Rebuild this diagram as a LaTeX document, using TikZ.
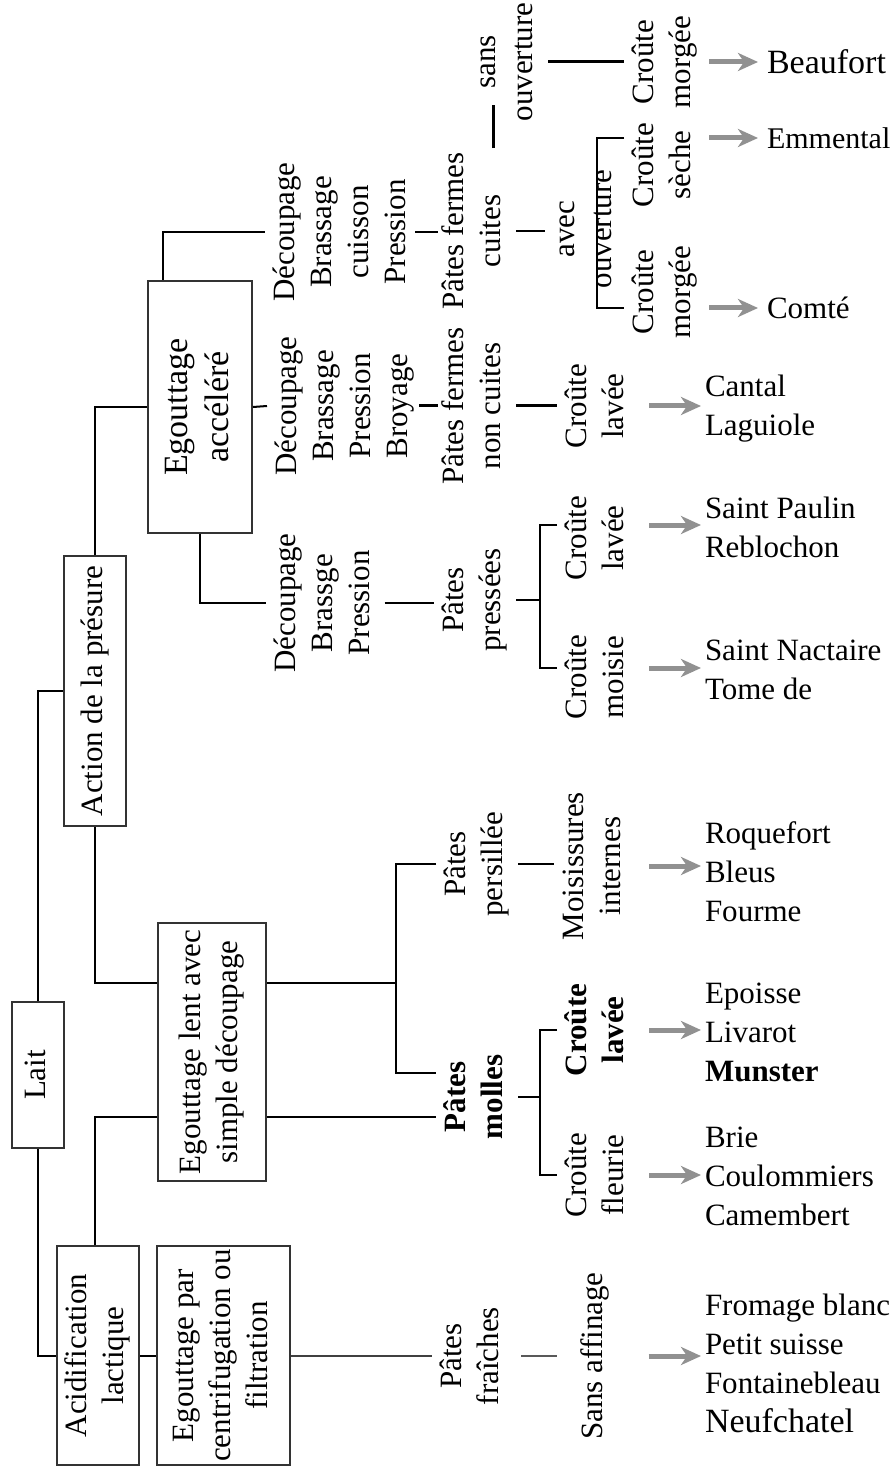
\documentclass[tikz,border=0pt]{standalone}
\usepackage{fontspec}
\setmainfont{Liberation Serif}
\usetikzlibrary{arrows.meta}
\definecolor{arrowgray}{RGB}{145,145,145}
\newcommand{\vt}[1]{\rotatebox{90}{\begin{tabular}{@{}c@{}}#1\end{tabular}}}

\begin{document}
\begin{tikzpicture}[
       x=0.5pt, y=-0.5pt,
       line width=1pt,
       font=\fontsize{15.5}{18.5}\selectfont,
       box/.style={
         draw=black!80,
         line width=1pt,
         inner sep=0pt
       },
       etape/.style={inner sep=1.5pt},
       fromage/.style={
         anchor=west,
         align=left,
         inner sep=1.5pt,
         font=\fontsize{15.5}{19.5}\selectfont
       },
       fleche/.style={
         draw=arrowgray,
         line width=2.5pt,
         -{Stealth[length=10pt,width=9pt,inset=3pt]}
       },
       fin/.style={line width=0.6pt},
       epais/.style={line width=1.5pt}
     ]

       \useasboundingbox (0,0) rectangle (894,1470);

       % boites
       \node[box, minimum width=26pt, minimum height=73pt] (lait) at (38,1075) {\vt{Lait}};
       \node[box, minimum width=31pt, minimum height=135pt] (action) at (95,691) {\vt{Action de la présure}};
       \node[box, minimum width=41pt, minimum height=109.5pt] (acid) at (98,1355.5) {\vt{Acidification\\lactique}};
       \node[box, minimum width=66.5pt, minimum height=109.5pt] (egpar) at (223.5,1355.5) {\vt{Egouttage par\\centrifugation ou\\filtration}};
       \node[box, minimum width=54pt, minimum height=129pt] (eglent) at (212,1052) {\vt{Egouttage lent avec\\simple découpage}};
       \node[box, minimum width=52pt, minimum height=126pt, font=\fontsize{17}{20.5}\selectfont] (egacc) at (200,407) {\vt{Egouttage\\accéléré}};

       % etapes
       \node[etape] (dec1) at (343,232) {\vt{Découpage\\Brassage\\cuisson\\Pression}};
       \node[etape] (dec2) at (345,406) {\vt{Découpage\\Brassage\\Pression\\Broyage}};
       \node[etape] (dec3) at (325,603) {\vt{Découpage\\Brassge\\Pression}};
       \node[etape] (pfc) at (475,231) {\vt{Pâtes fermes\\cuites}};
       \node[etape] (pfnc) at (475,406) {\vt{Pâtes fermes\\non cuites}};
       \node[etape] (ppr) at (475,600) {\vt{Pâtes\\pressées}};
       \node[etape] (ppe) at (477,864) {\vt{Pâtes\\persillée}};
       \node[etape] (pmo) at (477,1097) {\vt{\textbf{Pâtes}\\\textbf{molles}}};
       \node[etape] (pfr) at (473,1356) {\vt{Pâtes\\fraîches}};

       \node[etape] (sansouv) at (507,62) {\vt{sans\\ouverture}};
       \node[etape] (avecouv) at (586,229) {\vt{avec\\ouverture}};
       \node[etape] (cm1) at (665,62) {\vt{Croûte\\morgée}};
       \node[etape] (cse) at (665,165) {\vt{Croûte\\sèche}};
       \node[etape] (cm2) at (665,292) {\vt{Croûte\\morgée}};
       \node[etape] (cl1) at (598,406) {\vt{Croûte\\lavée}};
       \node[etape] (cl2) at (598,538) {\vt{Croûte\\lavée}};
       \node[etape] (cmo) at (598,677) {\vt{Croûte\\moisie}};
       \node[etape] (moi) at (595,866) {\vt{Moisissures\\internes}};
       \node[etape] (cl3) at (598,1030) {\vt{\textbf{Croûte}\\\textbf{lavée}}};
       \node[etape] (cfl) at (598,1175) {\vt{Croûte\\fleurie}};
       \node[etape] (saff) at (595,1356) {\vt{Sans affinage}};

       % fromages
       \node[fromage, font=\fontsize{17}{19.5}\selectfont] (beaufort) at (763,62) {Beaufort};
       \node[fromage, font=\fontsize{15}{19.5}\selectfont] (emmental) at (763,138) {Emmental};
       \node[fromage] (comte) at (763,308) {Comté};
       \node[fromage] (cantal) at (701,409) {Cantal\\Laguiole};
       \node[fromage] (paulin) at (701,527) {Saint Paulin\\Reblochon};
       \node[fromage] (nactaire) at (701,670) {Saint Nactaire\\Tome de};
       \node[fromage] (roquefort) at (701,872) {Roquefort\\Bleus\\Fourme};
       \node[fromage] (epoisse) at (701,1032) {Epoisse\\Livarot\\\textbf{Munster}};
       \node[fromage] (brie) at (701,1176) {Brie\\Coulommiers\\Camembert};
       \node[fromage] (fromblanc) at (701,1363) {Fromage blanc\\Petit suisse\\Fontainebleau\\{\fontsize{17}{19.5}\selectfont Neufchatel}};

       % tronc
       \draw (lait.north) |- (action.west);
       \draw (lait.south) |- (acid.west);
       \draw (action.north) |- (egacc.west);
       \coordinate (fork) at (396,983);
       \coordinate (jB) at ([yshift=-10pt]pmo.west);
       \draw (action.south) |- (eglent.west |- fork);
       \draw (eglent.east |- fork) -- (fork);
       \draw (ppe.west) -| (fork) |- ([yshift=12pt]pmo.west);
       \draw ([xshift=-1.5pt]acid.north) |- (eglent.west |- jB);
       \draw (eglent.east |- jB) -- (jB);
       \draw (acid) -- (egpar);
       \draw[draw=black!75] (egpar.east) -- (egpar.east -| pfr.west);
       \draw[draw=black!65, shorten <=3.5pt, shorten >=8pt] (pfr.east) -- (pfr.east -| saff.west);

       % egouttage accelere
       \draw ([xshift=-18.5pt]egacc.north) |- (dec1.west);
       \draw (egacc.east) -- (dec2.west);
       \draw (egacc.south) |- (dec3.west);
       \draw[fin, shorten <=-3pt, shorten >=-2pt] (dec1.east) -- (dec1.east -| pfc.west);
       \draw[epais, shorten <=-2pt, shorten >=-2pt] (dec2.east) -- (dec2.east -| pfnc.west);
       \draw (dec3.east) -- (dec3.east -| ppr.west);

       % pates fermes
       \draw[fin] (pfc.east) -- (pfc.east -| avecouv.west);
       \draw[epais, shorten >=-10pt] ([xshift=9pt]pfc.north) -- ([xshift=9pt]pfc.north |- sansouv.south);
       \draw[epais] (sansouv.east) -- (sansouv.east -| cm1.west);
       \draw ([yshift=13.5pt]cse.west) -| ([xshift=5.5pt]avecouv.center) |- ([yshift=-8pt]cm2.west);
       \draw[epais] (pfnc.east) -- (pfnc.east -| cl1.west);

       % pates pressees, persillee, molles
       \draw (ppr.east) -- ([xshift=12pt]ppr.east);
       \draw ([yshift=6.5pt]cl2.west) -| ([xshift=12pt]ppr.east) |- ([yshift=4.5pt]cmo.west);
       \draw[fin] (ppe.east) -- (ppe.east -| moi.west);
       \draw (pmo.east) -- ([xshift=11pt]pmo.east);
       \draw (cl3.west) -| ([xshift=11pt]pmo.east) |- (cfl.west);

       % fleches
       \draw[fleche, shorten <=1.5pt, shorten >=2.5pt] (cm1.east) -- (cm1.east -| beaufort.west);
       \draw[fleche, shorten <=1.5pt, shorten >=2.5pt] ([yshift=13.5pt]cse.east) -- ([yshift=13.5pt]cse.east -| emmental.west);
       \draw[fleche, shorten <=1.5pt, shorten >=2.5pt] ([yshift=-8pt]cm2.east) -- ([yshift=-8pt]cm2.east -| comte.west);
       \draw[fleche, shorten <=5pt, shorten >=0pt] (cl1.east) -- (cl1.east -| cantal.west);
       \draw[fleche, shorten <=5pt, shorten >=0pt] ([yshift=6.5pt]cl2.east) -- ([yshift=6.5pt]cl2.east -| paulin.west);
       \draw[fleche, shorten <=5pt, shorten >=0pt] ([yshift=4.5pt]cmo.east) -- ([yshift=4.5pt]cmo.east -| nactaire.west);
       \draw[fleche, shorten <=6.5pt, shorten >=0pt] (moi.east) -- (moi.east -| roquefort.west);
       \draw[fleche, shorten <=5pt, shorten >=0pt] (cl3.east) -- (cl3.east -| epoisse.west);
       \draw[fleche, shorten <=5pt, shorten >=0pt] (cfl.east) -- (cfl.east -| brie.west);
       \draw[fleche, shorten <=15.5pt, shorten >=0pt] (saff.east) -- (saff.east -| fromblanc.west);

\end{tikzpicture}
\end{document}
